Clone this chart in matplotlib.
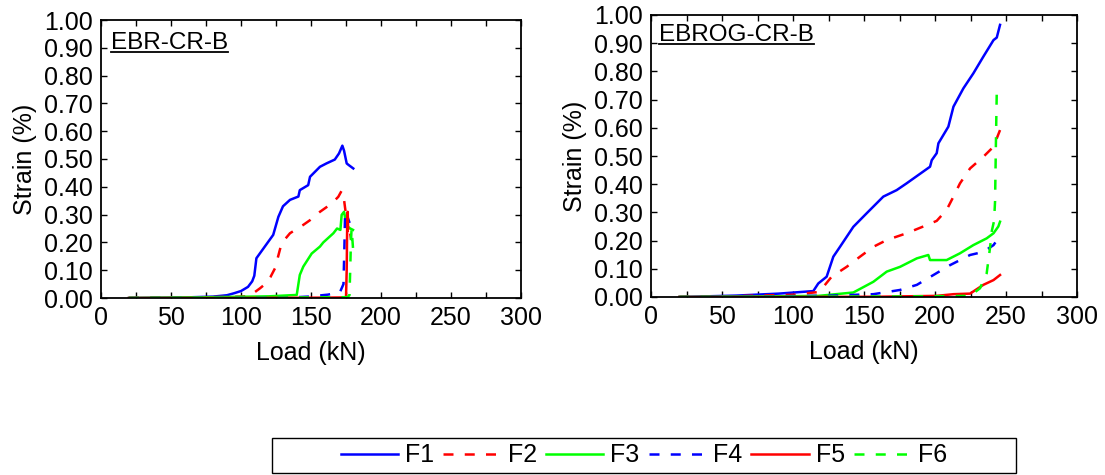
import numpy as np
import matplotlib.pyplot as plt
from matplotlib.lines import Line2D
from matplotlib.patches import Rectangle

plt.rcParams['font.family'] = ['Liberation Sans', 'DejaVu Sans']

# ---- EBR-CR-B (left panel) ----
ebr_f1_load = [20, 60, 80, 90, 95, 100, 105, 108, 109.5, 111, 116, 123, 126.7, 130, 135, 141, 142,
               148, 149.3, 156.4, 161, 167, 170, 172.4, 173.6, 175.5, 177, 180.2]
ebr_f1_strain = [0, 0.002, 0.005, 0.01, 0.017, 0.025, 0.04, 0.06, 0.08, 0.143, 0.178, 0.227, 0.292,
                 0.33, 0.353, 0.365, 0.388, 0.406, 0.436, 0.472, 0.484, 0.498, 0.52, 0.548, 0.53,
                 0.484, 0.478, 0.466]
ebr_f2_load = [20, 60, 90, 100, 106, 113.6, 117.9, 121, 124.3, 129, 135, 144.5, 149.3, 156.4, 164.8,
               169.5, 171.9, 173.6, 175.5, 176.4, 177.5, 178.6]
ebr_f2_strain = [0, 0.002, 0.004, 0.005, 0.007, 0.035, 0.053, 0.075, 0.107, 0.197, 0.233, 0.263,
                 0.28, 0.31, 0.34, 0.364, 0.386, 0.353, 0.28, 0.233, 0.25, 0.21]
ebr_f3_load = [20, 80, 120, 139.8, 142, 144.5, 150.5, 156.4, 158.8, 166, 168.6, 171, 171.9, 173.6,
               175.5, 178, 180]
ebr_f3_strain = [0, 0.003, 0.006, 0.011, 0.083, 0.113, 0.16, 0.185, 0.2, 0.233, 0.25, 0.245, 0.299,
                 0.31, 0.26, 0.25, 0.245]
ebr_f4_load = [20, 100, 140, 148, 162, 170.6, 173.2, 173.8, 174.3, 174.8, 175.5, 177.6]
ebr_f4_strain = [0, 0.001, 0.003, 0.005, 0.012, 0.02, 0.05, 0.17, 0.29, 0.28, 0.30, 0.27]
ebr_f5_load = [20, 100, 150, 175, 175.5, 175.8, 176.2, 176.5]
ebr_f5_strain = [0, 0, 0.001, 0.002, 0.1, 0.245, 0.31, 0.25]
ebr_f6_load = [20, 100, 150, 176, 177.5, 178, 178.5, 179, 180]
ebr_f6_strain = [0, 0.001, 0.002, 0.003, 0.01, 0.1, 0.2, 0.25, 0.18]

# ---- EBROG-CR-B (right panel) ----
ebrog_f1_load = [20, 60, 90, 114.3, 117.8, 123.7, 128.4, 133.1, 142.5, 151.9, 163.6, 173, 180, 196.5,
                 197.7, 201.2, 202.4, 209.4, 213, 220, 227, 234, 241.2, 243.5, 245.8]
ebrog_f1_strain = [0, 0.005, 0.012, 0.021, 0.048, 0.072, 0.143, 0.178, 0.249, 0.297, 0.356, 0.379,
                   0.403, 0.462, 0.485, 0.51, 0.545, 0.604, 0.675, 0.74, 0.793, 0.852, 0.911, 0.92,
                   0.965]
ebrog_f2_load = [20, 60, 100, 118.5, 127.2, 137.8, 147.2, 156.6, 166, 180, 194.2, 201.2, 208.2, 213,
                 217.6, 224.7, 234, 241.2, 245.8]
ebrog_f2_strain = [0, 0.003, 0.008, 0.018, 0.072, 0.107, 0.143, 0.178, 0.202, 0.226, 0.255, 0.27,
                   0.309, 0.356, 0.403, 0.456, 0.497, 0.533, 0.592]
ebrog_f3_load = [20, 80, 118, 142.5, 156.6, 166, 175.4, 187.2, 195.3, 196.5, 208.2, 217.6, 227,
                 236.4, 241.2, 244.6, 245.8]
ebrog_f3_strain = [0, 0.002, 0.004, 0.016, 0.054, 0.09, 0.107, 0.137, 0.149, 0.131, 0.131, 0.155,
                   0.184, 0.208, 0.226, 0.25, 0.267]
ebrog_f4_load = [20, 80, 128, 156.6, 175.4, 187.2, 198.9, 210.6, 224.7, 234, 241.2, 244.6]
ebrog_f4_strain = [0, 0.002, 0.005, 0.01, 0.025, 0.043, 0.078, 0.113, 0.149, 0.16, 0.184, 0.208]
ebrog_f5_load = [20, 100, 160, 201.2, 213, 224.7, 234, 241.2, 245.8]
ebrog_f5_strain = [0, 0, 0.001, 0.004, 0.01, 0.012, 0.043, 0.06, 0.078]
ebrog_f6_load = [20, 100, 180, 224.7, 231.7, 236.4, 238.8, 240, 241.6, 242.3, 243, 243.5]
ebrog_f6_strain = [0, 0.001, 0.002, 0.004, 0.031, 0.084, 0.177, 0.234, 0.27, 0.34, 0.58, 0.728]

labels = ['F1', 'F2', 'F3', 'F4', 'F5', 'F6']
colors = ['#0000FF', '#FF0000', '#00FF00', '#0000FF', '#FF0000', '#00FF00']
dashed = [False, True, False, True, False, True]

ebr = [(ebr_f1_load, ebr_f1_strain), (ebr_f2_load, ebr_f2_strain), (ebr_f3_load, ebr_f3_strain),
       (ebr_f4_load, ebr_f4_strain), (ebr_f5_load, ebr_f5_strain), (ebr_f6_load, ebr_f6_strain)]
ebrog = [(ebrog_f1_load, ebrog_f1_strain), (ebrog_f2_load, ebrog_f2_strain),
         (ebrog_f3_load, ebrog_f3_strain), (ebrog_f4_load, ebrog_f4_strain),
         (ebrog_f5_load, ebrog_f5_strain), (ebrog_f6_load, ebrog_f6_strain)]

LW = 1.8
DASH = (4.0, 4.5)
FS = 18

W, H = 1105, 475
fig = plt.figure(figsize=(W / 100, H / 100), dpi=100)
ax1 = fig.add_axes([101 / W, 1 - 298 / H, 420 / W, 278 / H])
ax2 = fig.add_axes([651 / W, 1 - 297 / H, 426 / W, 282 / H])


def draw_panel(ax, series, title, tx, ty):
    for (x, y), c, d in zip(series, colors, dashed):
        if d:
            ax.plot(x, y, color=c, lw=LW, dashes=DASH)
        else:
            ax.plot(x, y, color=c, lw=LW)
    ax.set_xlim(0, 300)
    ax.set_ylim(0, 1.0)
    ax.set_xticks(np.arange(0, 301, 50))
    ax.set_xticks(np.arange(25, 300, 50), minor=True)
    ax.set_yticks(np.arange(0, 1.001, 0.1))
    ax.set_yticklabels(['%.2f' % v for v in np.arange(0, 1.001, 0.1)])
    ax.tick_params(which='both', direction='in', top=True, right=True, length=4, width=1,
                   labelsize=FS)
    ax.tick_params(axis='y', pad=6)
    ax.tick_params(axis='x', pad=6)
    for s in ax.spines.values():
        s.set_linewidth(1.3)
    ax.set_xlabel('Load (kN)', fontsize=FS, labelpad=8)
    ax.set_ylabel('Strain (%)', fontsize=FS, labelpad=5)
    t = ax.text(tx, ty, title, transform=ax.transAxes, fontsize=17.5, va='center', ha='left')
    return t


t1 = draw_panel(ax1, ebr, 'EBR-CR-B', 0.024, 0.917)
t2 = draw_panel(ax2, ebrog, 'EBROG-CR-B', 0.019, 0.929)

# underline the panel titles
fig.canvas.draw()
r = fig.canvas.get_renderer()
for ax, t in [(ax1, t1), (ax2, t2)]:
    bb = t.get_window_extent(r).transformed(ax.transAxes.inverted())
    ax.plot([bb.x0, bb.x1], [bb.y0 + 0.008, bb.y0 + 0.008], color='black', lw=1.3,
            transform=ax.transAxes, clip_on=False)

handles = []
for c, d in zip(colors, dashed):
    if d:
        handles.append(Line2D([], [], color=c, lw=LW, dashes=DASH))
    else:
        handles.append(Line2D([], [], color=c, lw=LW))
fig.legend(handles, labels, ncol=6, loc='center', bbox_to_anchor=(644 / W, 1 - 455.5 / H),
           fontsize=FS, frameon=False, handlelength=2.3, handletextpad=0.28,
           columnspacing=0.36, borderpad=0.2, borderaxespad=0)
# legend frame box as in the reference (wider than its entries)
fig.patches.append(Rectangle((272 / W, 1 - 473 / H), 744 / W, 35 / H, transform=fig.transFigure,
                             fill=False, edgecolor='black', lw=1.0))
fig.savefig('out.png', dpi=100)
